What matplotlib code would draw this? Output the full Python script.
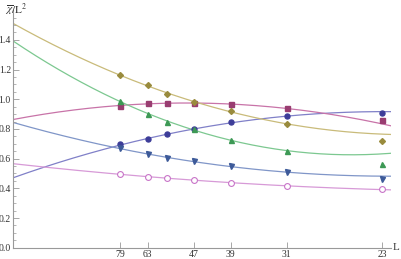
import numpy as np
import matplotlib
matplotlib.use("Agg")
import matplotlib.pyplot as plt

plt.rcParams['font.family'] = ['Liberation Serif', 'DejaVu Serif']
plt.rcParams['mathtext.fontset'] = 'stix'

# system sizes (x axis is 1/L)
L = np.array([79, 63, 55, 47, 39, 31, 23])
tick_L = [79, 63, 47, 39, 31, 23]

# chi-bar / L^2
circle_blue = [0.696, 0.730, 0.764, 0.801, 0.844, 0.885, 0.907]
square_mag = [0.956, 0.972, 0.977, 0.972, 0.966, 0.939, 0.862]
diamond_gold = [1.161, 1.094, 1.037, 0.983, 0.920, 0.833, 0.721]
tri_green = [0.988, 0.898, 0.849, 0.799, 0.725, 0.653, 0.566]
tri_down_blue = [0.669, 0.631, 0.602, 0.584, 0.548, 0.508, 0.465]
ocircle_pink = [0.494, 0.476, 0.471, 0.458, 0.434, 0.418, 0.393]

series = [
    (circle_blue, 'o', '#3d3d99', '#8080c8', True),
    (square_mag, 's', '#993d71', '#c873a8', True),
    (diamond_gold, 'D', '#998b3d', '#c9bb7a', True),
    (tri_green, '^', '#3d9955', '#7cc890', True),
    (tri_down_blue, 'v', '#3d5a99', '#8096c8', True),
    (ocircle_pink, 'o', '#c874c8', '#d79ad7', False),
]

fig = plt.figure(figsize=(4.01, 2.59), dpi=100)
ax = fig.add_axes([0.0324, 0.0436, 0.942, 0.917])

x = 1.0 / L
xs = np.linspace(0, 0.0445, 200)
fitmask = L >= 31
for vals, mk, col, lcol, filled in series:
    vals = np.array(vals)
    p = np.polyfit(x[fitmask], vals[fitmask], 2)
    ax.plot(xs, np.polyval(p, xs), color=lcol, lw=0.9, zorder=1)
    if filled:
        ax.plot(x, vals, ls='none', marker=mk, ms=3.6 if mk != 'D' else 3.0,
                color=col, mec=col, zorder=3)
    else:
        ax.plot(x, vals, ls='none', marker=mk, ms=4.2, mfc='white',
                mec=col, mew=0.8, zorder=3)

ax.set_xlim(0, 0.0445)
ax.set_ylim(0, 1.6)
ax.set_xticks([1.0 / v for v in tick_L])
ax.set_xticklabels([str(v) for v in tick_L])
ax.set_yticks(np.arange(0, 1.41, 0.2))
ax.set_yticklabels(['%.1f' % v for v in np.arange(0, 1.41, 0.2)])
ax.set_yticks(np.arange(0, 1.6, 0.05), minor=True)

for s in ['top', 'right']:
    ax.spines[s].set_visible(False)
for s in ['left', 'bottom']:
    ax.spines[s].set_color('#999999')
    ax.spines[s].set_linewidth(0.8)
ax.tick_params(direction='in', colors='#999999', labelcolor='#333333',
               labelsize=7, length=4, width=0.6, pad=1.5)
ax.tick_params(which='minor', direction='in', colors='#999999', length=2, width=0.5)

fig.text(0.98, 0.043, 'L', fontsize=8, color='#333333', va='center', ha='left')
fig.text(0.012, 0.962, r'$\overline{\chi}/\mathrm{L}^2$', fontsize=8,
         color='#333333', va='center', ha='left')

fig.savefig('out.png', dpi=100)
